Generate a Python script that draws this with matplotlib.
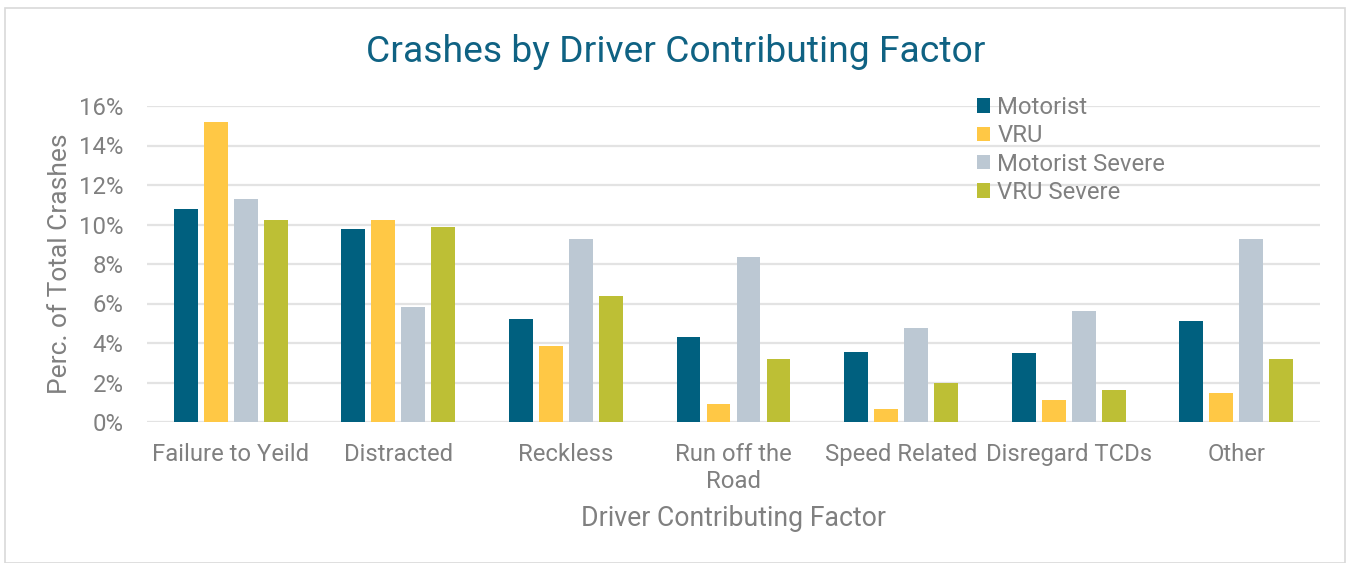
import matplotlib
matplotlib.use("Agg")
import matplotlib.pyplot as plt
from matplotlib.patches import Rectangle
import numpy as np

categories = ["Failure to Yeild", "Distracted", "Reckless", "Run off the\nRoad",
              "Speed Related", "Disregard TCDs", "Other"]
series_names = ["Motorist", "VRU", "Motorist Severe", "VRU Severe"]
motorist = [10.8, 9.75, 5.22, 4.29, 3.54, 3.49, 5.1]
vru = [15.2, 10.23, 3.85, 0.9, 0.64, 1.1, 1.47]
motorist_severe = [11.27, 5.8, 9.27, 8.37, 4.74, 5.64, 9.28]
vru_severe = [10.24, 9.89, 6.38, 3.19, 1.96, 1.6, 3.19]
yticks = [0, 2, 4, 6, 8, 10, 12, 14, 16]

colors = ["#00607F", "#FFC845", "#BCC8D3", "#BDBF35"]
text_gray = "#808080"

plt.rcParams['font.family'] = ['Roboto', 'DejaVu Sans']

fig = plt.figure(figsize=(13.51, 5.63), dpi=100)
ax = fig.add_axes([147/1351, 1-422/563, (1320-147)/1351, (422-106)/563])

x = np.arange(len(categories))
slot = 0.179
width = 0.143
data = [motorist, vru, motorist_severe, vru_severe]
for i, (name, vals) in enumerate(zip(series_names, data)):
    ax.bar(x + (i - 1.5) * slot, vals, width=width, color=colors[i], label=name,
           zorder=3)

ax.set_xlim(-0.5, len(categories) - 0.5)
ax.set_ylim(0, 16)
ax.set_yticks(yticks)
ax.set_yticklabels([f"{v}%" for v in yticks], fontsize=17.2, color=text_gray)
ax.set_xticks(x)
ax.set_xticklabels(categories, fontsize=17.2, color=text_gray, linespacing=1.22)
ax.tick_params(axis='both', length=0)
ax.tick_params(axis='x', pad=15)
ax.tick_params(axis='y', pad=17)
ax.grid(axis='y', color="#E3E3E3", linewidth=1.6, zorder=0)
for s in ax.spines.values():
    s.set_visible(False)

ax.set_ylabel("Perc. of Total Crashes", fontsize=19, color=text_gray, labelpad=5)
ax.set_xlabel("Driver Contributing Factor", fontsize=19.2, color=text_gray, labelpad=9)

fig.text(676/1351, 1-52/563, "Crashes by Driver Contributing Factor", fontsize=26.8,
         color="#0F6283", ha='center', va='center')

leg = ax.legend(loc='upper left', bbox_to_anchor=(977/1351, 1-96/563),
                bbox_transform=fig.transFigure, frameon=False, fontsize=17.2,
                handlelength=0.55, handleheight=0.55, handletextpad=0.3,
                labelspacing=0.22, borderaxespad=0, borderpad=0)
for t in leg.get_texts():
    t.set_color(text_gray)

fig.patches.append(Rectangle((5/1351, 0), (1345-5)/1351, 1-8/563,
                             transform=fig.transFigure, fill=False,
                             edgecolor="#D9D9D9", linewidth=1.2))

fig.savefig("out.png", dpi=100)
